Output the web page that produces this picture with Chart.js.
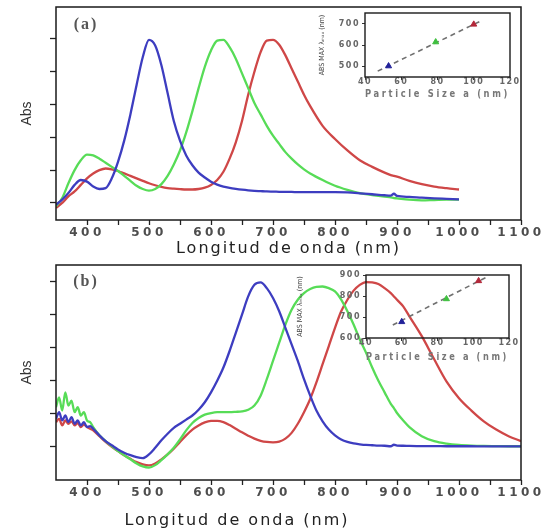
<!DOCTYPE html>
<html>
<head>
<meta charset="utf-8">
<title>Espectros de absorción</title>
<script src="https://cdn.jsdelivr.net/npm/chart.js@4.4.0/dist/chart.umd.min.js"></script>
<style>
  body { margin: 0; background: #fff; }
  #wrap { position: relative; width: 546px; height: 529px; overflow: hidden; background: #fff; }
  #wrap canvas { position: absolute; }
  #titleB {
    position: absolute; left: 0; top: 510px; width: 474px; text-align: center;
    font: 16px "DejaVu Sans", sans-serif; letter-spacing: 2px; line-height: 20px; color: #222;
  }
</style>
</head>
<body>
<div id="wrap">
  <canvas id="chartA" width="546" height="262" style="left:0;top:0"></canvas>
  <canvas id="chartB" width="546" height="267" style="left:0;top:262px"></canvas>
  <canvas id="insetA" width="256" height="110" style="left:290px;top:0"></canvas>
  <canvas id="insetB" width="266" height="110" style="left:280px;top:262px"></canvas>
  <div id="titleB">Longitud de onda (nm)</div>
</div>
<script>
// ---- panel (a): normalised absorbance spectra ----
const wavelengthA = [350, 360, 370, 380, 390, 400, 410, 420, 430, 440, 450, 460, 470, 480, 490,
  500, 510, 520, 530, 540, 550, 560, 570, 580, 590, 600, 610, 620, 630, 640, 650, 660, 670, 680,
  690, 700, 710, 720, 730, 740, 750, 760, 780, 800, 820, 840, 860, 880, 890, 895, 900, 920, 940,
  960, 980, 1000];
const blueA = [-0.01, 0.02, 0.06, 0.11, 0.14, 0.13, 0.10, 0.085, 0.09, 0.15, 0.25, 0.38, 0.54, 0.72, 0.89,
  0.995, 0.96, 0.84, 0.67, 0.50, 0.38, 0.29, 0.23, 0.185, 0.155, 0.13, 0.112, 0.10, 0.092, 0.086, 0.081, 0.077, 0.074, 0.072,
  0.07, 0.069, 0.068, 0.067, 0.067, 0.066, 0.066, 0.066, 0.066, 0.066, 0.064, 0.059, 0.053, 0.047, 0.045, 0.056, 0.043, 0.037, 0.032,
  0.028, 0.025, 0.022];
const greenA = [-0.02, 0.03, 0.12, 0.20, 0.26, 0.295, 0.29, 0.27, 0.245, 0.22, 0.195, 0.165, 0.135, 0.105, 0.085,
  0.075, 0.085, 0.115, 0.165, 0.235, 0.32, 0.43, 0.56, 0.70, 0.83, 0.93, 0.99, 0.995, 0.95, 0.88, 0.79, 0.70, 0.61, 0.54,
  0.47, 0.41, 0.36, 0.31, 0.27, 0.235, 0.205, 0.18, 0.14, 0.105, 0.08, 0.06, 0.048, 0.038, 0.034, 0.03, 0.028, 0.02, 0.016,
  0.018, 0.02, 0.02];
const redA = [-0.03, 0.0, 0.04, 0.07, 0.11, 0.15, 0.18, 0.20, 0.21, 0.205, 0.195, 0.18, 0.165, 0.15, 0.135,
  0.12, 0.108, 0.098, 0.091, 0.087, 0.084, 0.082, 0.082, 0.085, 0.093, 0.11, 0.14, 0.19, 0.27, 0.37, 0.50, 0.66, 0.80, 0.92,
  0.99, 0.995, 0.965, 0.90, 0.82, 0.74, 0.66, 0.59, 0.47, 0.39, 0.32, 0.26, 0.22, 0.185, 0.17, 0.165, 0.16, 0.135, 0.115,
  0.10, 0.09, 0.082];

// ---- panel (b) ----
const wavelengthB = [350, 355, 360, 365, 370, 375, 380, 385, 390, 395, 400, 405, 410,
  420, 430, 440, 450, 460, 470, 480, 490, 500, 510,
  520, 530, 540, 550, 560, 570, 580, 590, 600, 610,
  620, 630, 640, 650, 660, 670, 680, 690, 700, 710,
  720, 730, 740, 750, 760, 770, 780, 790, 800, 810,
  820, 830, 840, 850, 860, 870, 880, 890, 895, 900, 910, 920,
  940, 960, 980, 1000, 1020, 1040, 1060, 1080, 1100];
const blueB = [0.17, 0.21, 0.16, 0.19, 0.15, 0.18, 0.14, 0.16, 0.13, 0.15, 0.12, 0.125, 0.11,
  0.07, 0.035, 0.01, -0.015, -0.035, -0.05, -0.062, -0.068, -0.045, -0.005,
  0.04, 0.08, 0.115, 0.14, 0.165, 0.19, 0.225, 0.27, 0.33, 0.40,
  0.48, 0.58, 0.69, 0.80, 0.91, 0.98, 0.995, 0.96, 0.90, 0.82,
  0.72, 0.62, 0.52, 0.41, 0.31, 0.22, 0.155, 0.105, 0.07, 0.045,
  0.03, 0.021, 0.016, 0.012, 0.01, 0.008, 0.007, 0.004, 0.013, 0.008, 0.007, 0.006,
  0.005, 0.005, 0.004, 0.004, 0.004, 0.003, 0.003, 0.003, 0.003];
const greenB = [0.24, 0.30, 0.22, 0.33, 0.25, 0.28, 0.21, 0.24, 0.19, 0.21, 0.16, 0.15, 0.12,
  0.07, 0.035, 0.005, -0.025, -0.05, -0.075, -0.10, -0.118, -0.125, -0.11,
  -0.08, -0.045, -0.005, 0.045, 0.10, 0.145, 0.175, 0.195, 0.205, 0.21,
  0.21, 0.21, 0.212, 0.215, 0.225, 0.25, 0.31, 0.41, 0.52, 0.63,
  0.74, 0.83, 0.89, 0.93, 0.955, 0.968, 0.97, 0.96, 0.94, 0.89,
  0.82, 0.74, 0.65, 0.57, 0.48, 0.40, 0.33, 0.26, 0.235, 0.205, 0.16, 0.12,
  0.065, 0.035, 0.02, 0.012, 0.008, 0.006, 0.005, 0.004, 0.004];
const redB = [0.15, 0.17, 0.13, 0.16, 0.14, 0.155, 0.13, 0.145, 0.12, 0.135, 0.12, 0.11, 0.10,
  0.065, 0.03, 0.0, -0.025, -0.05, -0.072, -0.092, -0.106, -0.112, -0.10,
  -0.075, -0.045, -0.01, 0.03, 0.07, 0.105, 0.13, 0.148, 0.157, 0.158,
  0.15, 0.132, 0.11, 0.088, 0.068, 0.05, 0.037, 0.03, 0.028, 0.032,
  0.05, 0.085, 0.14, 0.21, 0.29, 0.39, 0.50, 0.61, 0.72, 0.82,
  0.89, 0.945, 0.98, 0.997, 0.995, 0.985, 0.96, 0.93, 0.91, 0.89, 0.85, 0.79,
  0.67, 0.53, 0.395, 0.295, 0.22, 0.155, 0.105, 0.065, 0.035];

// axis ticks
const absTicks = [0, 0.2, 0.4, 0.6, 0.8, 1.0];
const wlMajor = [400, 500, 600, 700, 800, 900, 1000, 1100];
const wlMinor = [450, 550, 650, 750, 850, 950, 1050];

// insets: particle size vs. wavelength of the absorbance maximum
const sizeA = [53, 79, 100];
const peakA = [500, 614, 698];
const fitSizeA = [47, 105];
const fitPeakA = [476, 719];
const sizeB = [60, 85, 103];
const peakB = [677, 786, 872];
const fitSizeB = [55, 107];
const fitPeakB = [662, 888];
const sizeTicks = [40, 60, 80, 100, 120];
const peakTicksA = [500, 600, 700];
const peakTicksB = [600, 700, 800, 900];

const LINE = { blue: '#3d3dc0', green: '#57dc57', red: '#cf4747' };
const MARK = ['#22229a', '#3fbf3f', '#b3283a'];
const SANS = '"DejaVu Sans", sans-serif';

const pairs = (xs, ys) => xs.map((x, i) => ({ x, y: ys[i] }));
const setTicks = values => scale => { scale.ticks = values.map(value => ({ value })); };

// box around the plotting area
const frame = {
  id: 'frame',
  afterDraw(chart, args, opts) {
    const { ctx, chartArea: a } = chart;
    ctx.save();
    ctx.strokeStyle = opts.color || '#1a1a1a';
    ctx.lineWidth = opts.width || 1.5;
    ctx.strokeRect(a.left, a.top, a.right - a.left, a.bottom - a.top);
    ctx.restore();
  }
};

// "(a)" / "(b)" panel tag
const tag = {
  id: 'tag',
  afterDraw(chart, args, opts) {
    if (!opts.text) return;
    const ctx = chart.ctx;
    ctx.save();
    ctx.font = 'bold 16px "Liberation Serif", serif';
    ctx.letterSpacing = '2px';
    ctx.fillStyle = '#555';
    ctx.textAlign = 'center';
    ctx.textBaseline = 'middle';
    ctx.fillText(opts.text, opts.x, opts.y);
    ctx.restore();
  }
};

// wider letter spacing for the tick labels / titles of selected scales
const spacing = {
  id: 'spacing',
  beforeDraw(chart, args, opts) {
    Object.keys(chart.scales).forEach(id => {
      const conf = opts[id];
      const scale = chart.scales[id];
      if (!conf || scale._spaced) return;
      [['drawLabels', conf.labels], ['drawTitle', conf.title]].forEach(([fn, px]) => {
        const orig = scale[fn];
        scale[fn] = function (...a) {
          this.ctx.save();
          this.ctx.letterSpacing = (px || 0) + 'px';
          orig.apply(this, a);
          this.ctx.restore();
        };
      });
      scale._spaced = true;
    });
  }
};

function spectrumChart(id, cfg) {
  const datasets = [
    { values: cfg.blue, color: LINE.blue },
    { values: cfg.green, color: LINE.green },
    { values: cfg.red, color: LINE.red }
  ].map(s => ({
    data: pairs(cfg.wl, s.values),
    borderColor: s.color,
    borderWidth: 2.3,
    pointRadius: 0,
    fill: false,
    cubicInterpolationMode: 'monotone'
  }));

  return new Chart(document.getElementById(id), {
    type: 'line',
    data: { datasets },
    plugins: [frame, tag, spacing],
    options: {
      responsive: false,
      animation: false,
      devicePixelRatio: 1,
      layout: { padding: { top: cfg.top, right: 25, left: 0, bottom: 0 } },
      plugins: {
        legend: { display: false },
        tooltip: { enabled: false },
        frame: { color: '#1a1a1a', width: 1.5 },
        tag: cfg.tag,
        spacing: { x: { labels: 3.5, title: 2 } }
      },
      scales: {
        x: {
          type: 'linear',
          min: 350,
          max: 1100,
          afterBuildTicks: setTicks([...wlMajor, ...wlMinor].sort((a, b) => a - b)),
          afterFit: s => { s.height = cfg.xAxisHeight; },
          border: { display: false },
          grid: { drawOnChartArea: false, tickLength: 5, tickColor: '#222', tickWidth: 1.3 },
          ticks: {
            autoSkip: false,
            maxRotation: 0,
            padding: cfg.labelPad,
            color: '#4d4d4d',
            font: { family: SANS, size: 12, weight: 'bold' },
            callback: v => (wlMajor.includes(v) ? String(v) : '')
          },
          title: {
            display: cfg.showTitle,
            text: 'Longitud de onda (nm)',
            color: '#222',
            font: { family: SANS, size: 16 },
            padding: { top: 0, bottom: 3.4 }
          }
        },
        y: {
          min: cfg.yMin,
          max: cfg.yMax,
          afterBuildTicks: setTicks(absTicks),
          afterFit: s => { s.width = 56; },
          border: { display: false },
          grid: { drawOnChartArea: false, tickLength: 6, tickColor: '#222', tickWidth: 1.3 },
          ticks: { display: false },
          title: {
            display: true,
            text: 'Abs',
            color: '#333',
            font: { family: '"Liberation Sans", Arial, sans-serif', size: 14 },
            padding: { top: 18.6, bottom: 0 }
          }
        }
      }
    }
  });
}

function insetChart(id, cfg) {
  return new Chart(document.getElementById(id), {
    type: 'scatter',
    data: {
      datasets: [
        {
          data: pairs(cfg.sizes, cfg.peaks),
          pointStyle: 'triangle',
          pointRadius: 3.5,
          backgroundColor: MARK,
          borderColor: MARK,
          showLine: false
        },
        {
          data: pairs(cfg.fitSizes, cfg.fitPeaks),
          showLine: true,
          borderColor: '#707070',
          borderWidth: 1.6,
          borderDash: [5, 4],
          pointRadius: 0
        }
      ]
    },
    plugins: [frame, spacing],
    options: {
      responsive: false,
      animation: false,
      devicePixelRatio: 1,
      layout: { padding: { top: 13, right: cfg.padRight, left: 0, bottom: 0 } },
      plugins: {
        legend: { display: false },
        tooltip: { enabled: false },
        frame: { color: '#1a1a1a', width: 1.4 },
        spacing: { x: { labels: 1.5, title: 3.5 }, y: { labels: 1.5, title: 0 } }
      },
      scales: {
        x: {
          type: 'linear',
          min: 40,
          max: 120,
          afterBuildTicks: setTicks(sizeTicks),
          afterFit: s => { s.height = cfg.xAxisHeight; },
          border: { display: false },
          grid: { drawOnChartArea: false, tickLength: 3, tickColor: '#333', tickWidth: 1 },
          ticks: {
            autoSkip: false,
            maxRotation: 0,
            padding: -2.5,
            color: '#666',
            font: { family: SANS, size: 8, weight: 'bold', lineHeight: 1 }
          },
          title: {
            display: true,
            text: 'Particle Size a (nm)',
            color: '#777',
            font: { family: SANS, size: 11, weight: 'bold', lineHeight: 1 },
            padding: { top: 0, bottom: cfg.xTitlePad }
          }
        },
        y: {
          min: cfg.yMin,
          max: cfg.yMax,
          afterBuildTicks: setTicks(cfg.yTicks),
          afterFit: s => { s.width = cfg.yAxisWidth; },
          border: { display: false },
          grid: { drawOnChartArea: false, tickLength: 3, tickColor: '#333', tickWidth: 1 },
          ticks: {
            padding: 2,
            color: '#666',
            font: { family: SANS, size: 8, weight: 'bold' }
          },
          title: {
            display: true,
            text: 'ABS MAX λₘₐₓ (nm)',
            color: '#444',
            font: { family: '"DejaVu Sans Condensed", "DejaVu Sans", sans-serif', size: 7 },
            padding: { top: cfg.yTitlePad, bottom: 0 }
          }
        }
      }
    }
  });
}

spectrumChart('chartA', {
  wl: wavelengthA, blue: blueA, green: greenA, red: redA,
  yMin: -0.104, yMax: 1.195, top: 7, xAxisHeight: 42, labelPad: 1,
  showTitle: true,
  tag: { text: '(a)', x: 86, y: 25 }
});

spectrumChart('chartB', {
  wl: wavelengthB, blue: blueB, green: greenB, red: redB,
  yMin: -0.2, yMax: 1.1, top: 3, xAxisHeight: 49, labelPad: 0.5,
  showTitle: false,
  tag: { text: '(b)', x: 86, y: 20 }
});

insetChart('insetA', {
  sizes: sizeA, peaks: peakA, fitSizes: fitSizeA, fitPeaks: fitPeakA,
  yMin: 448, yMax: 752, yTicks: peakTicksA,
  padRight: 36, yAxisWidth: 75, xAxisHeight: 33, yTitlePad: 27.8, xTitlePad: 10.5
});

insetChart('insetB', {
  sizes: sizeB, peaks: peakB, fitSizes: fitSizeB, fitPeaks: fitPeakB,
  yMin: 600, yMax: 900, yTicks: peakTicksB,
  padRight: 37, yAxisWidth: 86, xAxisHeight: 34, yTitlePad: 15.8, xTitlePad: 9.5
});
</script>
</body>
</html>
